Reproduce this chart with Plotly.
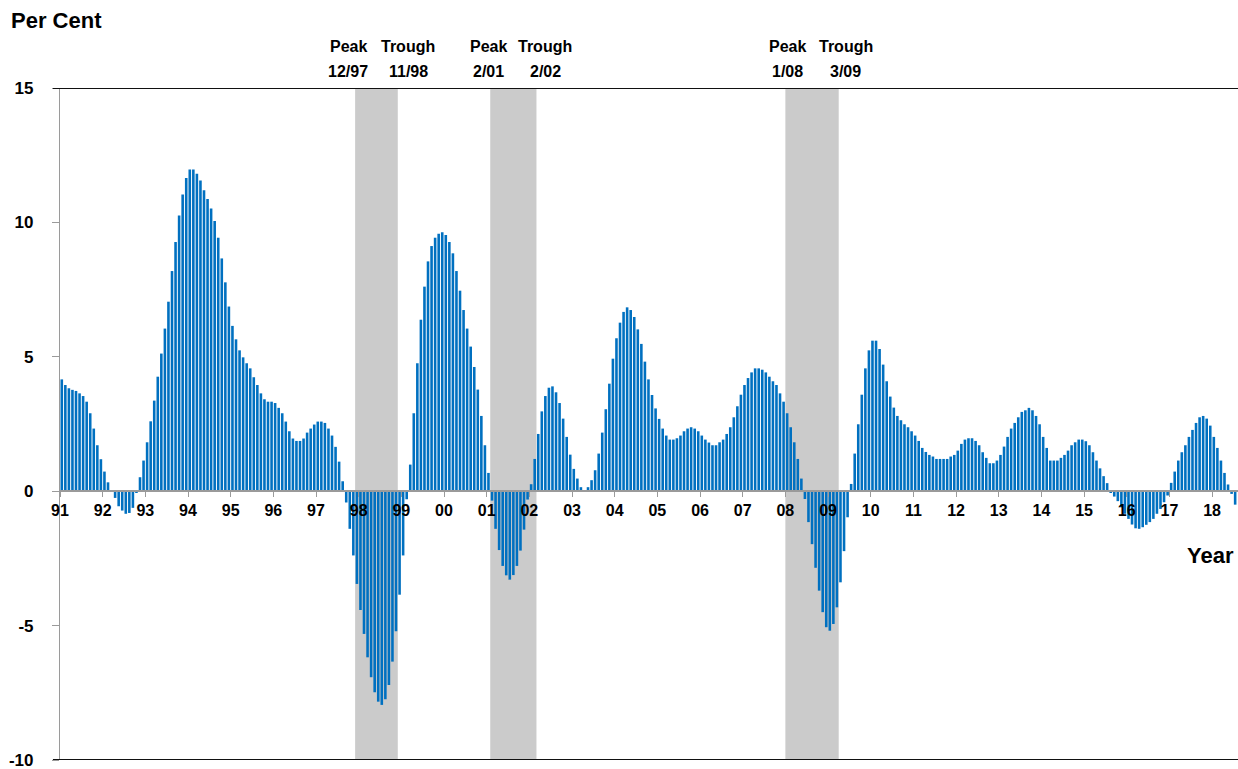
import numpy as np
import plotly.graph_objects as go

# ---------------- data (monthly, year-over-year %, Jan 1991 .. Jul 2018) ----------------
year_ticks = list(range(1991, 2019))
tick_labels = [f"{y % 100:02d}" for y in year_ticks]

v1991 = [4.16, 3.95, 3.83, 3.77, 3.73, 3.64, 3.54, 3.33, 2.90, 2.33, 1.71, 1.19]
v1992 = [0.73, 0.33, -0.02, -0.25, -0.56, -0.72, -0.84, -0.81, -0.62, -0.06, 0.52, 1.14]
v1993 = [1.82, 2.60, 3.37, 4.26, 5.12, 6.05, 7.05, 8.19, 9.27, 10.26, 11.04, 11.65]
v1994 = [11.97, 11.97, 11.81, 11.56, 11.20, 10.87, 10.52, 10.05, 9.43, 8.66, 7.77, 6.87]
v1995 = [6.15, 5.65, 5.24, 4.98, 4.76, 4.57, 4.24, 3.95, 3.64, 3.42, 3.33, 3.33]
v1996 = [3.28, 3.10, 2.90, 2.59, 2.23, 1.96, 1.87, 1.87, 1.96, 2.18, 2.33, 2.48]
v1997 = [2.59, 2.59, 2.54, 2.33, 2.07, 1.65, 1.10, 0.37, -0.42, -1.40, -2.39, -3.45]
v1998 = [-4.42, -5.31, -6.18, -6.92, -7.48, -7.83, -7.95, -7.74, -7.21, -6.34, -5.21, -3.85]
v1999 = [-2.39, -0.30, 0.99, 2.90, 4.76, 6.38, 7.61, 8.55, 9.12, 9.43, 9.58, 9.63]
v2000 = [9.53, 9.27, 8.85, 8.19, 7.46, 6.74, 6.05, 5.38, 4.62, 3.78, 2.80, 1.71]
v2001 = [0.68, -0.35, -1.40, -2.19, -2.78, -3.13, -3.29, -3.12, -2.78, -2.21, -1.43, -0.31]
v2002 = [0.26, 1.20, 2.13, 2.97, 3.54, 3.85, 3.90, 3.68, 3.28, 2.70, 2.02, 1.36]
v2003 = [0.83, 0.47, 0.15, 0.04, 0.15, 0.41, 0.78, 1.40, 2.18, 3.05, 4.00, 4.93]
v2004 = [5.69, 6.27, 6.67, 6.84, 6.74, 6.48, 6.02, 5.48, 4.82, 4.16, 3.58, 3.08]
v2005 = [2.69, 2.33, 2.07, 1.92, 1.92, 1.97, 2.07, 2.23, 2.33, 2.38, 2.33, 2.23]
v2006 = [2.07, 1.92, 1.81, 1.71, 1.71, 1.82, 1.92, 2.13, 2.38, 2.75, 3.16, 3.59]
v2007 = [3.95, 4.21, 4.42, 4.57, 4.57, 4.52, 4.42, 4.26, 4.09, 3.95, 3.64, 3.33]
v2008 = [2.90, 2.38, 1.82, 1.20, 0.47, -0.29, -1.15, -1.97, -2.85, -3.70, -4.50, -5.06]
v2009 = [-5.19, -4.94, -4.32, -3.39, -2.23, -0.97, 0.27, 1.40, 2.49, 3.59, 4.57, 5.24]
v2010 = [5.60, 5.60, 5.29, 4.71, 4.09, 3.52, 3.11, 2.80, 2.64, 2.49, 2.38, 2.23]
v2011 = [2.07, 1.87, 1.61, 1.46, 1.35, 1.29, 1.20, 1.20, 1.20, 1.20, 1.29, 1.35]
v2012 = [1.51, 1.76, 1.92, 1.97, 1.97, 1.87, 1.71, 1.45, 1.24, 1.04, 1.04, 1.14]
v2013 = [1.35, 1.66, 2.02, 2.33, 2.54, 2.75, 2.95, 3.01, 3.10, 3.01, 2.80, 2.49]
v2014 = [2.02, 1.61, 1.14, 1.14, 1.14, 1.24, 1.35, 1.51, 1.71, 1.82, 1.92, 1.92]
v2015 = [1.86, 1.71, 1.45, 1.14, 0.85, 0.56, 0.30, -0.05, -0.20, -0.37, -0.60, -0.84]
v2016 = [-1.03, -1.24, -1.38, -1.40, -1.34, -1.25, -1.15, -1.03, -0.84, -0.66, -0.41, -0.16]
v2017 = [0.31, 0.73, 1.14, 1.45, 1.71, 2.02, 2.28, 2.54, 2.75, 2.80, 2.70, 2.44]
v2018 = [2.02, 1.61, 1.14, 0.68, 0.25, -0.10, -0.50]

values = (v1991 + v1992 + v1993 + v1994 + v1995 + v1996 + v1997 + v1998 + v1999
          + v2000 + v2001 + v2002 + v2003 + v2004 + v2005 + v2006 + v2007 + v2008
          + v2009 + v2010 + v2011 + v2012 + v2013 + v2014 + v2015 + v2016 + v2017 + v2018)

# recessions: months since Jan 1991 (peak month start, month after trough)
rec_start = [83, 121, 204]
rec_end = [95, 134, 219]
peak_text = ["12/97", "2/01", "1/08"]
trough_text = ["11/98", "2/02", "3/09"]
peak_label_x = [81.1, 120.4, 204.7]
trough_label_x = [97.9, 136.4, 221.0]

# ---------------- figure ----------------
FONT = "Liberation Sans, Arial, sans-serif"
months = np.arange(len(values)) + 0.5
tick_vals = [(y - 1991) * 12 for y in year_ticks]

fig = go.Figure()
fig.add_trace(go.Bar(x=months, y=values, marker=dict(color="#0070C0", line=dict(width=0)),
                     showlegend=False))

shapes = []
for s, e in zip(rec_start, rec_end):
    shapes.append(dict(type="rect", xref="x", yref="y", x0=s, x1=e, y0=-10, y1=15,
                       fillcolor="#CBCBCB", line=dict(width=0), layer="below"))
for yv in (15, -10):
    shapes.append(dict(type="line", xref="paper", yref="y", x0=-0.006, x1=1, y0=yv, y1=yv,
                       line=dict(color="#111111", width=1.8)))

lab_font = dict(size=16, family=FONT, color="#000")
ann = []
for xp, t in zip(peak_label_x, peak_text):
    ann.append(dict(x=xp, y=1.062, xref="x", yref="paper", text="<b>Peak</b>", showarrow=False,
                    xanchor="center", yanchor="middle", font=lab_font))
    ann.append(dict(x=xp, y=1.024, xref="x", yref="paper", text=f"<b>{t}</b>", showarrow=False,
                    xanchor="center", yanchor="middle", font=lab_font))
for xp, t in zip(trough_label_x, trough_text):
    ann.append(dict(x=xp, y=1.062, xref="x", yref="paper", text="<b>Trough</b>", showarrow=False,
                    xanchor="center", yanchor="middle", font=lab_font))
    ann.append(dict(x=xp, y=1.024, xref="x", yref="paper", text=f"<b>{t}</b>", showarrow=False,
                    xanchor="center", yanchor="middle", font=lab_font))
ann.append(dict(x=-0.043, y=1.101, xref="paper", yref="paper", text="<b>Per Cent</b>", showarrow=False,
                xanchor="left", yanchor="middle", font=dict(size=22, family=FONT, color="#000")))
ann.append(dict(x=0.955, y=0.305, xref="paper", yref="paper", text="<b>Year</b>", showarrow=False,
                xanchor="left", yanchor="middle", font=dict(size=22, family=FONT, color="#000")))

fig.update_layout(
    width=1238, height=769,
    margin=dict(l=60, r=0, t=88, b=9),
    paper_bgcolor="white", plot_bgcolor="white",
    bargap=0.27,
    shapes=shapes, annotations=ann,
    xaxis=dict(range=[0, 331.3], tickmode="array", tickvals=tick_vals,
               ticktext=[f"<b>{t}</b>" for t in tick_labels],
               anchor="free", position=0.4, showline=True, linecolor="#9a9a9a", linewidth=1.5,
               ticks="outside", ticklen=5, tickcolor="#9a9a9a", showgrid=False, zeroline=False,
               tickfont=dict(size=16, family=FONT, color="#000"), ticklabelstandoff=0),
    yaxis=dict(range=[-10, 15], tickvals=[-10, -5, 0, 5, 10, 15],
               ticktext=["<b>-10</b>", "<b>-5</b>", "<b>0</b>", "<b>5</b>", "<b>10</b>", "<b>15</b>"],
               showline=True, linecolor="#9a9a9a", linewidth=1.2, ticks="outside", ticklen=7,
               tickcolor="#9a9a9a", showgrid=False, zeroline=False, ticklabelstandoff=15,
               ticklabeloverflow="allow",
               tickfont=dict(size=17, family=FONT, color="#000")),
)

# remove the browser's default 8px body margin so the figure fills the window exactly
fig.write_html("out.html", config={"displayModeBar": False},
               post_script="document.body.style.margin='0';document.body.style.overflow='hidden';")
